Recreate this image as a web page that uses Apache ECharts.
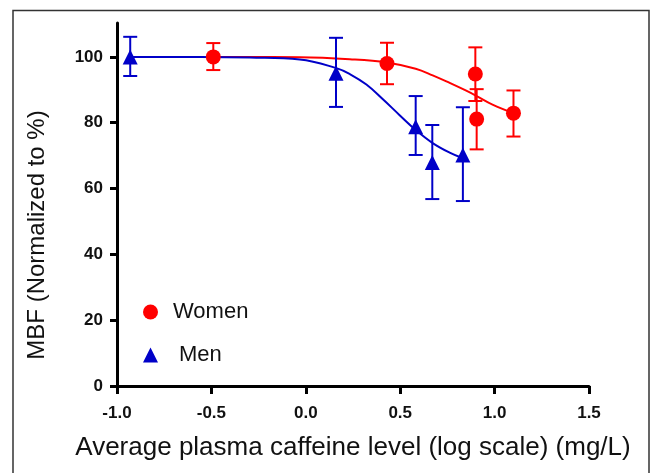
<!DOCTYPE html>
<html>
<head>
<meta charset="utf-8">
<script src="https://cdn.jsdelivr.net/npm/echarts@6/dist/echarts.min.js"></script>
<style>html,body{margin:0;padding:0;background:#fff}#c{width:651px;height:473px}</style>
</head>
<body>
<div id="c"></div>
<script>
// x: log10 caffeine, y: MBF mean, low/high: error bar ends
var womenX = [-0.49, 0.43, 0.898, 0.905, 1.10];
var womenY = [100, 98.0, 94.8, 81.1, 82.9];
var womenLow = [96.0, 91.7, 86.6, 71.9, 75.8];
var womenHigh = [104.2, 104.3, 102.9, 90.2, 89.8];

var menX = [-0.93, 0.16, 0.582, 0.670, 0.832];
var menY = [100, 95.0, 78.8, 67.9, 70.2];
var menLow = [94.2, 84.8, 70.2, 56.8, 56.2];
var menHigh = [106.1, 105.8, 88.1, 79.3, 84.7];

// fitted curves
var womenCurveX = [-0.49, -0.03, 0.233, 0.429, 0.582, 0.672, 0.762, 0.847, 0.905, 0.989, 1.10];
var womenCurveY = [100, 99.9, 99.3, 98.3, 96.4, 94.4, 92.1, 89.8, 88.1, 85.5, 82.9];
var menCurveX = [-0.93, -0.56, -0.296, -0.032, 0.162, 0.233, 0.321, 0.407, 0.497, 0.582, 0.672, 0.762, 0.832];
var menCurveY = [100, 100, 99.8, 99.2, 96.6, 94.8, 91.6, 87.2, 82.3, 77.8, 73.8, 70.9, 69.2];

var yTicks = [0, 20, 40, 60, 80, 100];
var xTicks = [-1.0, -0.5, 0.0, 0.5, 1.0, 1.5];

var RED = '#ff0000', BLUE = '#0000c8';

function zip(a, b) { return a.map(function (v, i) { return [v, b[i]]; }); }
function zip3(a, b, c) { return a.map(function (v, i) { return [v, b[i], c[i]]; }); }

function errRender(color) {
  return function (params, api) {
    var x = api.value(0);
    var lo = api.coord([x, api.value(1)]);
    var hi = api.coord([x, api.value(2)]);
    var hw = 7;
    var st = { stroke: color, lineWidth: 2 };
    return {
      type: 'group',
      children: [
        { type: 'line', shape: { x1: lo[0], y1: lo[1], x2: hi[0], y2: hi[1] }, style: st },
        { type: 'line', shape: { x1: lo[0] - hw, y1: lo[1], x2: lo[0] + hw, y2: lo[1] }, style: st },
        { type: 'line', shape: { x1: hi[0] - hw, y1: hi[1], x2: hi[0] + hw, y2: hi[1] }, style: st }
      ]
    };
  };
}

var chart = echarts.init(document.getElementById('c'), null, { renderer: 'canvas' });
chart.setOption({
  animation: false,
  backgroundColor: '#fff',
  grid: { left: 117, right: 62, top: 23, bottom: 87 },
  xAxis: {
    type: 'value', min: -1, max: 1.5, interval: 0.5,
    name: 'Average plasma caffeine level (log scale) (mg/L)',
    nameLocation: 'middle', nameGap: 49,
    nameTextStyle: { fontFamily: 'Liberation Sans', fontSize: 26, color: '#111' },
    axisLine: { onZero: false, lineStyle: { color: '#000', width: 3 } },
    axisTick: { show: true, length: 8, lineStyle: { color: '#000', width: 3 } },
    axisLabel: {
      fontFamily: 'Liberation Sans', fontSize: 17, fontWeight: 'bold', color: '#111', margin: 19,
      formatter: function (v) { return v.toFixed(1); }
    },
    splitLine: { show: false }
  },
  yAxis: {
    type: 'value', min: 0, max: 110.3,
    axisLine: { show: true, onZero: false, lineStyle: { color: '#000', width: 3 } },
    axisTick: { show: true, length: 7, customValues: yTicks, lineStyle: { color: '#000', width: 3 } },
    axisLabel: { customValues: yTicks, fontFamily: 'Liberation Sans', fontSize: 17, fontWeight: 'bold', color: '#111', margin: 14 },
    splitLine: { show: false }
  },
  legend: [
    {
      data: ['Women'], left: 138, top: 296, itemWidth: 15, itemHeight: 15, itemGap: 10,
      textStyle: { fontFamily: 'Liberation Sans', fontSize: 22, color: '#111', padding: [0, 0, 0, 10] }
    },
    {
      data: ['Men'], left: 138, top: 339, itemWidth: 15, itemHeight: 15, itemGap: 10,
      textStyle: { fontFamily: 'Liberation Sans', fontSize: 22, color: '#111', padding: [0, 0, 0, 16] }
    }
  ],
  graphic: [
    { type: 'rect', shape: { x: 13, y: 10.5, width: 636, height: 480 }, style: { fill: 'none', stroke: '#333', lineWidth: 1.5 }, silent: true },
    { type: 'text', x: 37, y: 235, rotation: Math.PI / 2,
      style: { text: 'MBF (Normalized to %)', font: '24px "Liberation Sans"', fill: '#111', textAlign: 'center', textVerticalAlign: 'middle' } }
  ],
  series: [
    { type: 'line', data: zip(womenCurveX, womenCurveY), smooth: 0.4, showSymbol: false,
      lineStyle: { color: RED, width: 2 }, z: 2, silent: true },
    { type: 'line', data: zip(menCurveX, menCurveY), smooth: 0.4, showSymbol: false,
      lineStyle: { color: BLUE, width: 2 }, z: 2, silent: true },
    { type: 'custom', data: zip3(womenX, womenLow, womenHigh), renderItem: errRender(RED), z: 3 },
    { type: 'custom', data: zip3(menX, menLow, menHigh), renderItem: errRender(BLUE), z: 3 },
    { name: 'Women', type: 'scatter', data: zip(womenX, womenY), symbol: 'circle', symbolSize: 15,
      itemStyle: { color: RED, opacity: 1 }, z: 4 },
    { name: 'Men', type: 'scatter', data: zip(menX, menY), symbol: 'triangle', symbolSize: 15,
      itemStyle: { color: BLUE, opacity: 1 }, z: 4 }
  ]
});
</script>
</body>
</html>
